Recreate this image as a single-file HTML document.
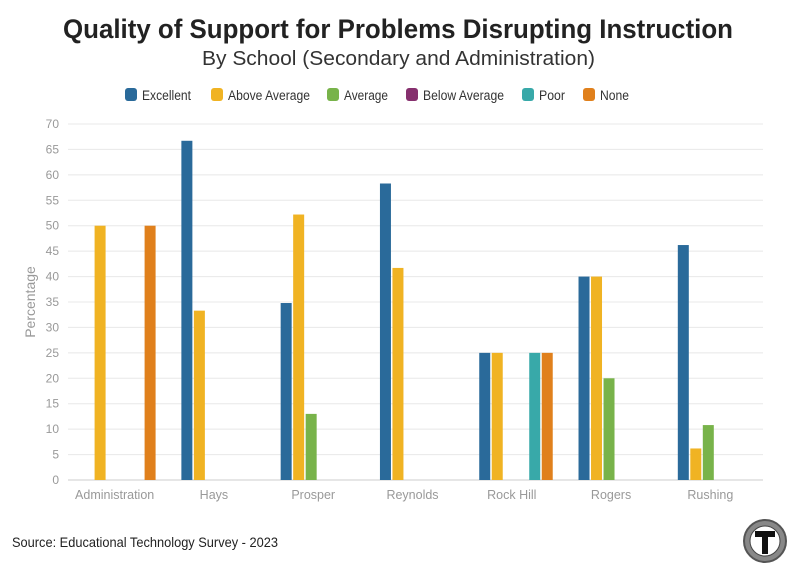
<!DOCTYPE html>
<html><head><meta charset="utf-8"><style>
body{margin:0;background:#fff;width:796px;height:575px;overflow:hidden;font-family:"Liberation Sans",sans-serif}
svg text{font-family:"Liberation Sans",sans-serif}
</style></head><body>
<svg id="chart" width="796" height="575">
<text x="63" y="38" textLength="670" lengthAdjust="spacingAndGlyphs" font-size="27" font-weight="bold" fill="#222">Quality of Support for Problems Disrupting Instruction</text>
<text x="202" y="65" textLength="393" lengthAdjust="spacingAndGlyphs" font-size="20" fill="#333">By School (Secondary and Administration)</text>
<g id="legend"></g>
<g id="grid"></g>
<g id="bars"></g>
<g id="xlabels"></g>
<text transform="translate(35,302) rotate(-90)" text-anchor="middle" font-size="14" fill="#999">Percentage</text>
<text x="12" y="547" textLength="266" lengthAdjust="spacingAndGlyphs" font-size="14" fill="#222">Source: Educational Technology Survey - 2023</text>
<g>
<circle cx="765" cy="541" r="21" fill="#888" stroke="#555" stroke-width="2"/>
<circle cx="765" cy="541" r="15" fill="#fff" stroke="#444"/>
<path d="M755 531h20v6h-7v17h-6v-17h-7z" fill="#111"/>
</g>
</svg>
<script>
const categories=["Administration","Hays","Prosper","Reynolds","Rock Hill","Rogers","Rushing"];
const seriesNames=["Excellent","Above Average","Average","Below Average","Poor","None"];
const excellent=[0,66.7,34.8,58.3,25,40,46.2];
const aboveAverage=[50,33.3,52.2,41.7,25,40,6.2];
const average=[0,0,13,0,0,20,10.8];
const belowAverage=[0,0,0,0,0,0,0];
const poor=[0,0,0,0,25,0,0];
const none=[50,0,0,0,25,0,0];
const yTicks=[0,5,10,15,20,25,30,35,40,45,50,55,60,65,70];
const series=[excellent,aboveAverage,average,belowAverage,poor,none];
const colors=["#2a6a9a","#f0b323","#78b34a","#86306e","#38a9a9","#e0801c"];
const NS="http://www.w3.org/2000/svg";
const L=68,R=763,T=124,B=480,yMax=70;
const y=v=>B-(v/yMax)*(B-T);
const bw=(R-L)/categories.length;
const x=i=>L+bw*i+bw/2;
function mk(t,a,p){const e=document.createElementNS(NS,t);for(const k in a)e.setAttribute(k,a[k]);p.appendChild(e);return e;}
const g=document.getElementById('grid');
yTicks.forEach(t=>{
 const l=mk('line',{x1:L,x2:R,y1:y(t),y2:y(t),stroke:t===0?'#ccc':'#e8e8e8'},g);
 
 
 const tx=mk('text',{x:59,y:y(t)+4,'text-anchor':'end','font-size':12,fill:'#999'},g);
 tx.textContent=t;
 
 
});
const bg=document.getElementById('bars');
const slot=12.5,w=11;
categories.forEach((c,i)=>{
 series.forEach((s,j)=>{
  const v=s[i]; if(!v)return;
  const cx=x(i)+(j-2.5)*slot+1.2;
  const r=mk('rect',{x:cx-w/2,y:y(v),width:w,height:y(0)-y(v),fill:colors[j]},bg);
  
  
 });
 const t=mk('text',{x:x(i)-3,y:499,'text-anchor':'middle','font-size':12.5,fill:'#999'},document.getElementById('xlabels'));
 t.textContent=c;
 
 
});
const lg=document.getElementById('legend');
const lx=[125,211,327,406,522,583];
const lw=[49,82,44,81,26,29];
seriesNames.forEach((n,j)=>{
 const gi=mk('g',{},lg);
 
 
 mk('rect',{x:lx[j],y:88,width:12,height:13,rx:3,fill:colors[j]},gi);
 const t=mk('text',{x:lx[j]+17,y:100,'font-size':13.5,fill:'#333',textLength:lw[j],lengthAdjust:'spacingAndGlyphs'},gi);
 t.textContent=n;
});
</script>
</body></html>
